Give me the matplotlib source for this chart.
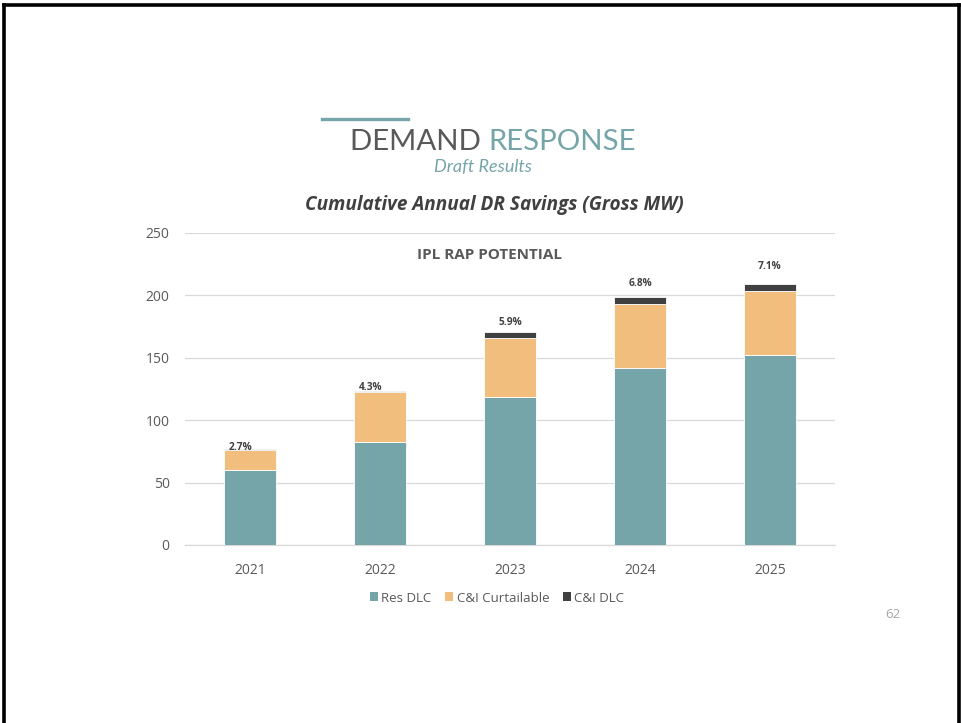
import matplotlib
matplotlib.use("Agg")
import matplotlib.pyplot as plt
from matplotlib.lines import Line2D
from matplotlib.patches import Patch
import numpy as np

# ---- data -------------------------------------------------------------
years = ["2021", "2022", "2023", "2024", "2025"]
res_dlc = [59.7, 82.3, 118.6, 142.2, 152.1]
ci_curtailable = [16.7, 40.4, 46.9, 51.1, 51.4]
ci_dlc = [0.3, 0.8, 5.0, 5.1, 5.9]
pct_labels = ["2.7%", "4.3%", "5.9%", "6.8%", "7.1%"]
series_names = ["Res DLC", "C&I Curtailable", "C&I DLC"]
y_ticks = [0, 50, 100, 150, 200, 250]

# ---- style ------------------------------------------------------------
TEAL = "#76a5a9"
ORANGE = "#f2be7e"
DARK = "#404040"
GRAY_TXT = "#595959"
GRID = "#d9d9d9"
plt.rcParams["font.family"] = ["Open Sans", "DejaVu Sans"]

fig = plt.figure(figsize=(9.62, 7.23), dpi=100)
W, H = 962, 723


def fx(px):
    return px / W


def fy(py):
    return 1 - py / H


# slide frame
fig.add_artist(Line2D([fx(3.5), fx(3.5)], [0, fy(5)], color="black", lw=2.6,
                      transform=fig.transFigure))
fig.add_artist(Line2D([fx(3.5), fx(959.5)], [fy(5), fy(5)], color="black", lw=2.6,
                      transform=fig.transFigure, solid_capstyle="projecting"))
fig.add_artist(Line2D([fx(959.5), fx(959.5)], [0, fy(5)], color="black", lw=2.6,
                      transform=fig.transFigure))

# header
fig.add_artist(Line2D([fx(322), fx(408)], [fy(119), fy(119)], color=TEAL, lw=2.4,
                      transform=fig.transFigure))
head_font = ["Lato", "DejaVu Sans"]
t1 = fig.text(fx(350), fy(142.5), "DEMAND ", fontsize=21.2, color=GRAY_TXT,
              fontweight="normal", ha="left", va="center", family=head_font)
fig.canvas.draw()
bb = t1.get_window_extent()
fig.text(bb.x1 / W, fy(142.5), "RESPONSE", fontsize=21.2, color=TEAL,
         fontweight="normal", ha="left", va="center", family=head_font)
fig.text(fx(483), fy(167), "Draft Results", fontsize=13, color=TEAL,
         style="italic", ha="center", va="center", family=head_font)
fig.text(fx(494), fy(205), "Cumulative Annual DR Savings (Gross MW)", fontsize=13.7,
         color=DARK, style="italic", fontweight="bold", ha="center", va="center")

# ---- chart ------------------------------------------------------------
ax = fig.add_axes([fx(185), fy(545), fx(835) - fx(185), fy(233) - fy(545)])
x = np.arange(len(years))
width = 0.4
ax.bar(x, res_dlc, width, color=TEAL, edgecolor="white", linewidth=0.6,
       label=series_names[0], zorder=3)
bottom2 = np.array(res_dlc)
ax.bar(x, ci_curtailable, width, bottom=bottom2, color=ORANGE, edgecolor="white",
       linewidth=0.6, label=series_names[1], zorder=3)
bottom3 = bottom2 + np.array(ci_curtailable)
ax.bar(x, ci_dlc, width, bottom=bottom3, color=DARK, edgecolor="white",
       linewidth=0.6, label=series_names[2], zorder=3)
totals = bottom3 + np.array(ci_dlc)

label_offsets = [1.5, 2.5, 8, 11, 14]
for xi, tot, lab, off in zip(x, totals, pct_labels, label_offsets):
    ax.text(xi - 0.07 if xi < 2 else xi, tot + off, lab, ha="center", va="center",
            fontsize=7.3, fontweight="bold", color=DARK, zorder=4)

ax.set_xlim(-0.5, 4.5)
ax.set_ylim(0, 250)
ax.set_yticks(y_ticks)
ax.set_xticks(x)
ax.set_xticklabels(years)
ax.tick_params(axis="both", length=0, labelsize=10, colors=GRAY_TXT)
ax.tick_params(axis="y", pad=11)
ax.tick_params(axis="x", pad=13)
ax.grid(axis="y", color=GRID, lw=0.9, zorder=0)
for s in ["top", "right", "left"]:
    ax.spines[s].set_visible(False)
ax.spines["bottom"].set_color(GRID)
ax.spines["bottom"].set_linewidth(0.9)

ax.text(0.468, 0.929, "IPL RAP POTENTIAL", transform=ax.transAxes, ha="center",
        va="center", fontsize=11, fontweight="bold", color=GRAY_TXT)

handles = [Patch(facecolor=c) for c in [TEAL, ORANGE, DARK]]
fig.legend(handles, series_names, loc="center", bbox_to_anchor=(fx(497), fy(598)),
           ncol=3, frameon=False, fontsize=9.5, handlelength=0.65, handleheight=0.65,
           handletextpad=0.25, columnspacing=1.0, labelcolor=GRAY_TXT)

fig.text(fx(893), fy(614), "62", fontsize=9.5, color="#a6a6a6", ha="center",
         va="center")

fig.savefig("out.png", dpi=100, facecolor="white")
